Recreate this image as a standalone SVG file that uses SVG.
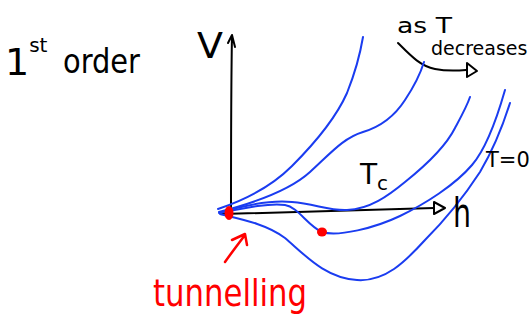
<svg xmlns="http://www.w3.org/2000/svg" width="531" height="324" viewBox="0 0 531 324">
<style>
.ink{fill:none;stroke:#000;stroke-width:2;stroke-linecap:round;stroke-linejoin:round}
.blue{fill:none;stroke:#1a3cf0;stroke-width:2;stroke-linecap:round;stroke-linejoin:round}
.red{fill:none;stroke:#f00;stroke-width:2.5;stroke-linecap:round;stroke-linejoin:round}
.tri{fill:#fff;stroke:#000;stroke-width:2;stroke-linejoin:round}
text{font-family:"DejaVu Sans",sans-serif;fill:#000}
.rt{fill:#f00}
</style>
<rect width="531" height="324" fill="#fff"/>
<g id="title">
<text x="5" y="75" font-size="38">1<tspan font-size="20" dy="-23">st</tspan></text>
<text x="63" y="73" font-size="34" textLength="77" lengthAdjust="spacingAndGlyphs">order</text>
</g>
<g id="connectors">
<path id="v-axis" class="ink" d="M231,212 C231,160 231,90 232,35 M228,43 L232,35 L235,47"/>
<path id="h-axis" class="ink" d="M222,214 C300,212 380,210 434,208"/>
<path class="tri" d="M434,202 L445,208 L434,214 Z"/>
<path id="t-arrow" class="ink" d="M398,43 C410,55 420,66 435,69 C445,71 455,71 466,70"/>
<path class="tri" d="M467,63 L477,71 L467,77 Z"/>
<path id="tunnel-arrow" class="red" d="M225,262 C232,252 239,243 245,235 M232,240 L245,234 L247,245"/>
</g>
<g id="curves">
<path id="curve-a" class="blue" d="M218,209 C245,200 272,186 292,166 C314,144 335,120 347,93 C355,73 360,55 363,37"/>
<path id="curve-b" class="blue" d="M219,212 C250,204 288,192 310,172 C330,154 343,138 363,132 C383,126 396,114 405,100 C413,88 420,75 424,62"/>
<path id="curve-tc" class="blue" d="M219,213 C245,205 272,200 292,202 C315,204 330,211 347,210 C370,209 388,196 405,182 C425,166 445,148 455,128 C462,115 467,106 470,97"/>
<path id="curve-d" class="blue" d="M220,213 C245,208 268,203 285,205 C298,207 308,226 322,232 C338,237 375,228 400,216 C425,204 455,185 472,165 C485,150 495,125 505,90"/>
<path id="curve-t0" class="blue" d="M220,214 C245,220 268,225 285,238 C305,255 325,278 357,280 C385,282 405,262 425,240 C445,220 465,195 480,172 C493,150 503,125 510,103"/>
</g>
<g id="dots">
<ellipse cx="229" cy="213" rx="4.5" ry="7" fill="#f00"/>
<ellipse cx="322" cy="232" rx="5" ry="4.5" fill="#f00"/>
</g>
<g id="labels">
<text x="197" y="58" font-size="36" textLength="26" lengthAdjust="spacingAndGlyphs">V</text>
<text x="453" y="227" font-size="40" textLength="18" lengthAdjust="spacingAndGlyphs">h</text>
<text x="360" y="184" font-size="28">T<tspan font-size="20" dy="6">c</tspan></text>
<text x="486" y="167" font-size="21">T=0</text>
<text x="397" y="33" font-size="22" textLength="55" lengthAdjust="spacingAndGlyphs">as T</text>
<text x="431" y="55" font-size="19">decreases</text>
<text class="rt" x="153" y="306" font-size="38" textLength="154" lengthAdjust="spacingAndGlyphs">tunnelling</text>
</g>
</svg>
